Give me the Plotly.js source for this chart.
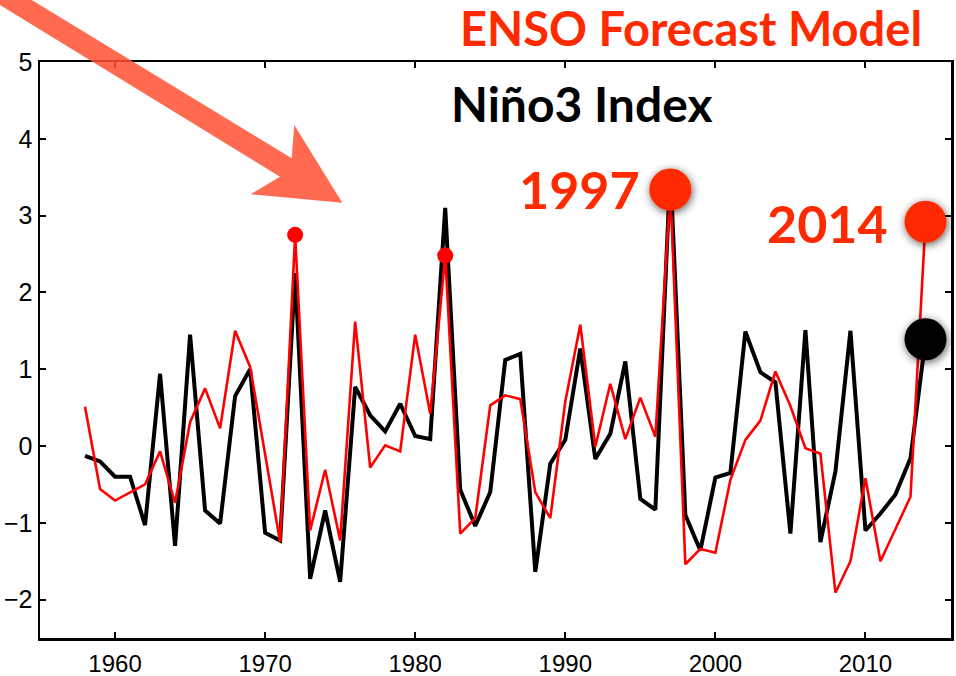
<!DOCTYPE html>
<html>
<head>
<meta charset="utf-8">
<script src="https://cdn.plot.ly/plotly-3.0.1.min.js"></script>
<style>html,body{margin:0;padding:0;background:#fff;}#chart{width:956px;height:676px;}</style>
</head>
<body>
<div id="chart"></div>
<script>
// ---- data ----
const years = [1958,1959,1960,1961,1962,1963,1964,1965,1966,1967,1968,1969,1970,1971,1972,1973,1974,1975,1976,1977,1978,1979,1980,1981,1982,1983,1984,1985,1986,1987,1988,1989,1990,1991,1992,1993,1994,1995,1996,1997,1998,1999,2000,2001,2002,2003,2004,2005,2006,2007,2008,2009,2010,2011,2012,2013,2014];
const observed = [-0.13,-0.20,-0.40,-0.40,-1.03,0.94,-1.30,1.45,-0.84,-1.01,0.65,1.00,-1.13,-1.23,2.25,-1.73,-0.84,-1.77,0.77,0.40,0.19,0.55,0.13,0.09,3.10,-0.57,-1.04,-0.60,1.12,1.20,-1.64,-0.23,0.08,1.27,-0.17,0.16,1.10,-0.69,-0.83,3.60,-0.90,-1.36,-0.41,-0.35,1.49,0.96,0.83,-1.14,1.51,-1.25,-0.33,1.50,-1.10,-0.88,-0.63,-0.16,1.39];
const model = [0.51,-0.56,-0.71,-0.61,-0.50,-0.07,-0.74,0.31,0.75,0.23,1.50,1.03,-0.12,-1.25,2.75,-1.10,-0.31,-1.23,1.62,-0.28,0.01,-0.07,1.45,0.42,2.48,-1.14,-0.94,0.53,0.66,0.61,-0.60,-0.94,0.58,1.58,-0.01,0.81,0.09,0.63,0.12,3.34,-1.54,-1.34,-1.39,-0.44,0.08,0.33,0.97,0.52,-0.03,-0.10,-1.91,-1.50,-0.42,-1.50,-1.08,-0.66,2.92];
const smallHighlightYears = [1972, 1982];
const bigHighlightYears = [1997, 2014];
const currentYear = [2014];
const xTickVals = [1960,1970,1980,1990,2000,2010];
const xTickText = ['1960','1970','1980','1990','2000','2010'];
const yTickVals = [-2,-1,0,1,2,3,4,5];

const titleText = 'ENSO Forecast Model';
const subtitleText = 'Niño3 Index';

function pick(arr, ys){ return ys.map(y => arr[years.indexOf(y)]); }

// ---- layout geometry ----
const W = 956, H = 676;
const M = {l:40, r:5, t:62, b:38};
const PW = W - M.l - M.r, PH = H - M.t - M.b;
const px = x => (x - M.l) / PW;
const py = y => (H - M.b - y) / PH;

const RED = '#ff0000';
const ORANGE = '#ff2a00';

const traces = [
  {x: years, y: observed, type:'scatter', mode:'lines', line:{color:'#000', width:4}, hoverinfo:'skip'},
  {x: years, y: model, type:'scatter', mode:'lines', line:{color:RED, width:2.6}, hoverinfo:'skip'},
  {x: smallHighlightYears, y: pick(model, smallHighlightYears), type:'scatter', mode:'markers', marker:{color:RED, size:16, line:{width:0}}, hoverinfo:'skip'},
  {x: currentYear, y: pick(observed, currentYear), type:'scatter', mode:'markers', marker:{color:'#000', size:42, line:{width:0}}, hoverinfo:'skip'},
  {x: bigHighlightYears, y: pick(model, bigHighlightYears), type:'scatter', mode:'markers', marker:{color:ORANGE, size:42, line:{width:0}}, hoverinfo:'skip'}
];

// arrow polygon in pixel space, converted to paper coords
const arrowPts = [[-40,-43.7],[291.7,158.3],[294.3,125],[342.3,202.7],[250.7,194.3],[280,176.7],[-40,-19.5]];
const arrowPath = 'M' + arrowPts.map(p => px(p[0]).toFixed(5)+','+py(p[1]).toFixed(5)).join(' L') + ' Z';

const boldFont = 'Lato, "Open Sans", sans-serif';

const layout = {
  width: W, height: H,
  margin: M,
  paper_bgcolor:'#fff', plot_bgcolor:'#fff',
  showlegend:false,
  xaxis:{
    range:[1955, 2015.7], tickvals:xTickVals, ticktext:xTickText,
    ticks:'inside', ticklen:6, tickwidth:2, tickcolor:'#000',
    showline:true, linewidth:2.5, linecolor:'#000', mirror:'ticks',
    showgrid:false, zeroline:false, ticklabelstandoff:3,
    tickfont:{family:'"Liberation Sans", Arial, sans-serif', size:24, color:'#000'}
  },
  yaxis:{
    range:[-2.5, 5], tickvals:yTickVals,
    ticks:'inside', ticklen:6, tickwidth:2, tickcolor:'#000',
    showline:true, linewidth:2.5, linecolor:'#000', mirror:'ticks',
    showgrid:false, zeroline:false,
    tickfont:{family:'"Liberation Sans", Arial, sans-serif', size:25, color:'#000'}
  },
  shapes:[
    {type:'path', xref:'paper', yref:'paper', path: arrowPath, fillcolor:'rgba(255,80,50,0.85)', line:{width:0}, layer:'above'}
  ],
  annotations:[
    {xref:'paper', yref:'paper', x:px(922), y:py(28), xanchor:'right', yanchor:'middle', showarrow:false,
     borderpad:0, borderwidth:0,
     text:'<b>'+titleText+'</b>', font:{family:boldFont, size:47, color:ORANGE}},
    {xref:'paper', yref:'paper', x:px(582), y:py(104), xanchor:'center', yanchor:'middle', showarrow:false,
     text:'<b>'+subtitleText+'</b>', font:{family:boldFont, size:48, color:'#000'}},
    {xref:'paper', yref:'paper', x:px(642), y:py(189), xanchor:'right', yanchor:'middle', showarrow:false,
     text:'<b>1997</b>', font:{family:boldFont, size:52, color:ORANGE}},
    {xref:'paper', yref:'paper', x:px(890), y:py(223), xanchor:'right', yanchor:'middle', showarrow:false,
     text:'<b>2014</b>', font:{family:boldFont, size:52, color:ORANGE}}
  ]
};

Plotly.newPlot('chart', traces, layout, {staticPlot:true}).then(gd => {
  const svg = gd.querySelector('svg.main-svg');
  const ns = 'http://www.w3.org/2000/svg';
  let defs = svg.querySelector('defs');
  if (!defs) { defs = document.createElementNS(ns,'defs'); svg.insertBefore(defs, svg.firstChild); }
  const f = document.createElementNS(ns,'filter');
  f.setAttribute('id','dotShadow');
  f.setAttribute('x','-50%'); f.setAttribute('y','-50%'); f.setAttribute('width','200%'); f.setAttribute('height','200%');
  const ds = document.createElementNS(ns,'feDropShadow');
  ds.setAttribute('dx','1'); ds.setAttribute('dy','2'); ds.setAttribute('stdDeviation','4');
  ds.setAttribute('flood-color','#000'); ds.setAttribute('flood-opacity','0.65');
  f.appendChild(ds); defs.appendChild(f);
  const tr = gd.querySelectorAll('.scatterlayer .trace');
  [3,4].forEach(i => { if (tr[i]) tr[i].querySelectorAll('path.point').forEach(p => p.setAttribute('filter','url(#dotShadow)')); });
});
</script>
</body>
</html>
